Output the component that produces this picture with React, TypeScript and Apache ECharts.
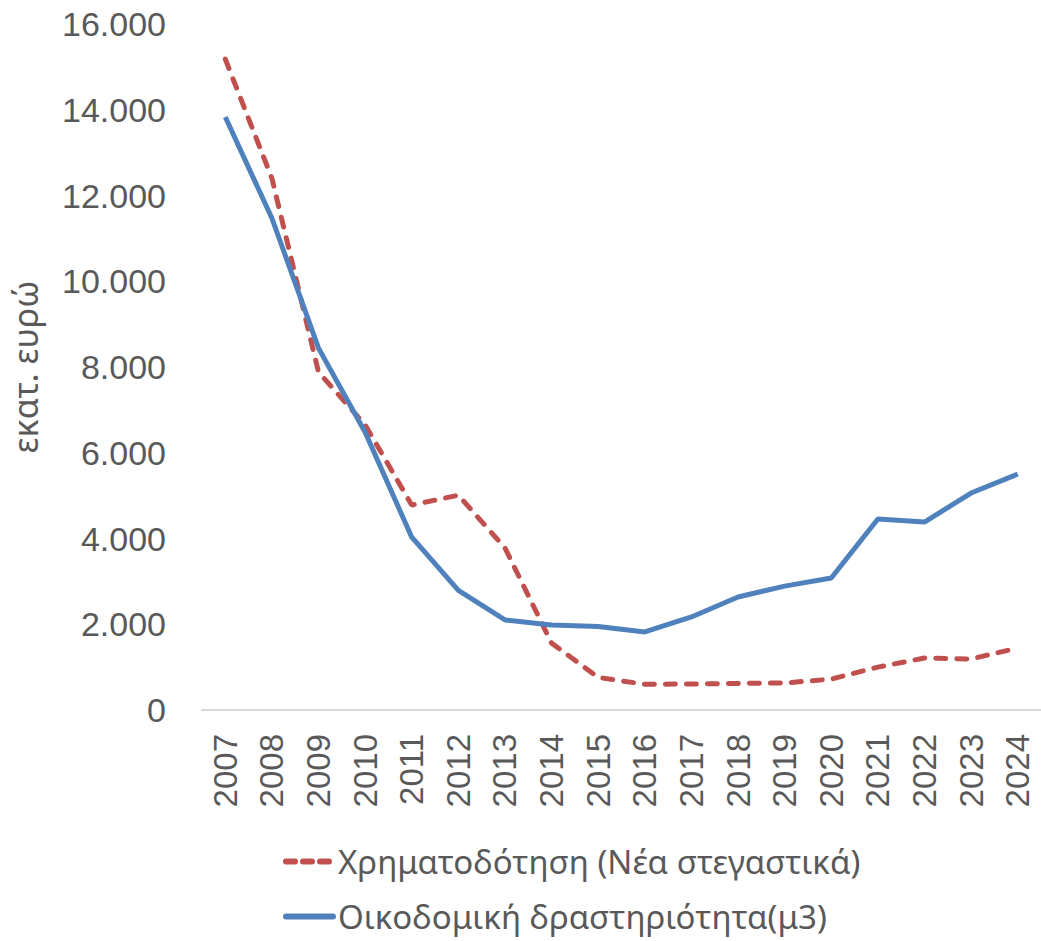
import React, { useEffect, useRef } from "react";
import * as echarts from "echarts";

const years = ["2007","2008","2009","2010","2011","2012","2013","2014","2015","2016","2017","2018","2019","2020","2021","2022","2023","2024"];
const financing = [15180, 12400, 7880, 6650, 4780, 5010, 3780, 1560, 760, 600, 606, 620, 630, 720, 1000, 1213, 1190, 1446];
const construction = [13830, 11470, 8440, 6480, 4030, 2790, 2100, 1980, 1950, 1820, 2170, 2635, 2890, 3078, 4454, 4384, 5060, 5503];
const financingName = "Χρηματοδότηση (Νέα στεγαστικά)";
const constructionName = "Οικοδομική δραστηριότητα(μ3)";
const yAxisName = "εκατ. ευρώ";

const fmt = (v: number) => {
  const s = Math.round(v).toString();
  return s.replace(/\B(?=(\d{3})+(?!\d))/g, ".");
};

export default function App() {
  const ref = useRef<HTMLDivElement>(null);
  useEffect(() => {
    if (!ref.current) return;
    const chart = echarts.init(ref.current, undefined, { renderer: "svg" });
    const axisFont = "Liberation Sans";
    const legendBase = {
      orient: "horizontal",
      left: 283,
      itemWidth: 47,
      itemHeight: 16,
      padding: 0,
      itemStyle: { opacity: 0 },
      textStyle: { fontSize: 33, color: "#595959", fontFamily: "Noto Sans" },
    };
    chart.setOption({
      animation: false,
      backgroundColor: "#ffffff",
      grid: { left: 201, top: 24, height: 686, width: 847, containLabel: false },
      legend: [
        { ...legendBase, top: 845, data: [financingName], lineStyle: { width: 6, type: [9, 8], cap: "round" } },
        { ...legendBase, top: 900, data: [constructionName], lineStyle: { width: 6, cap: "round" } },
      ],
      xAxis: {
        type: "category",
        data: years,
        boundaryGap: true,
        axisLine: { lineStyle: { color: "#d9d9d9", width: 2 } },
        axisTick: { show: false },
        axisLabel: { rotate: 90, fontSize: 33, color: "#595959", fontFamily: axisFont, margin: 24, interval: 0 },
      },
      yAxis: {
        type: "value",
        min: 0,
        max: 16000,
        interval: 2000,
        name: yAxisName,
        nameLocation: "middle",
        nameGap: 160,
        nameRotate: 90,
        nameTextStyle: { fontSize: 34, color: "#595959", fontFamily: "Noto Sans" },
        axisLine: { show: false },
        axisTick: { show: false },
        splitLine: { show: false },
        axisLabel: { fontSize: 34, color: "#595959", fontFamily: axisFont, margin: 36, formatter: (v: number) => fmt(v) },
      },
      series: [
        {
          name: financingName,
          type: "line",
          data: financing,
          symbol: "none",
          lineStyle: { color: "#C0504D", width: 5, type: [10, 11], cap: "round" },
          itemStyle: { color: "#C0504D" },
        },
        {
          name: constructionName,
          type: "line",
          data: construction,
          symbol: "none",
          lineStyle: { color: "#4F81BD", width: 5 },
          itemStyle: { color: "#4F81BD" },
        },
      ],
    });
    return () => chart.dispose();
  }, []);
  return <div ref={ref} style={{ position: "absolute", left: 0, top: 0, width: 1041, height: 941 }} />;
}
